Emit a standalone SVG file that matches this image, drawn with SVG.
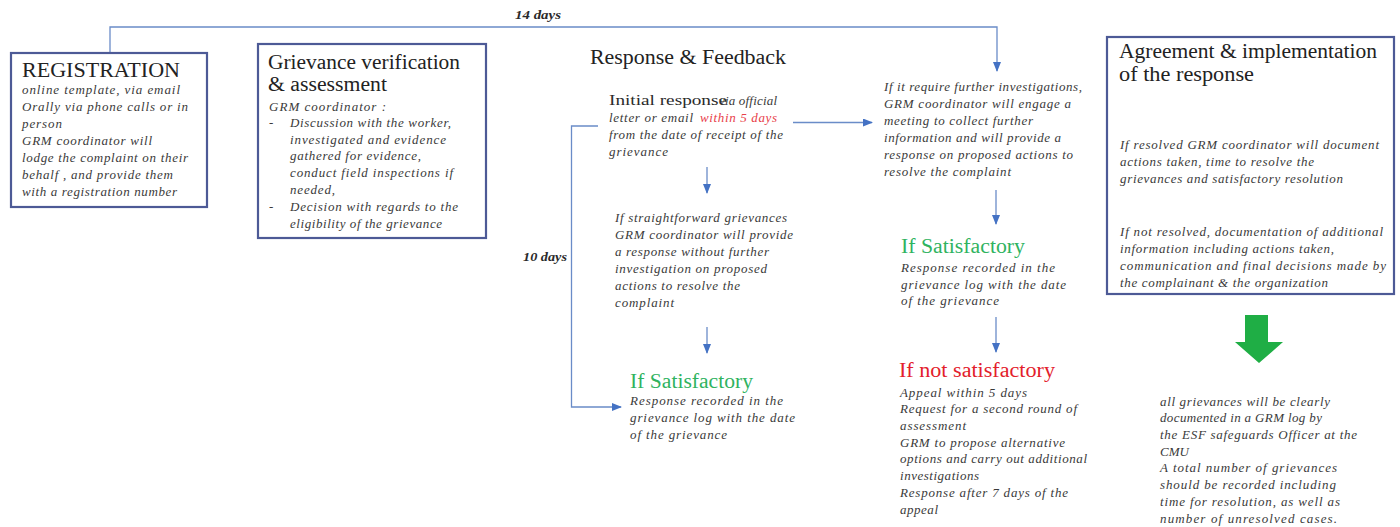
<svg xmlns="http://www.w3.org/2000/svg" width="1400" height="527" viewBox="0 0 1400 527">
<defs>
<marker id="ah" markerWidth="10" markerHeight="8" refX="9" refY="4" orient="auto" markerUnits="userSpaceOnUse">
<path d="M0,0 L10,4 L0,8 Z" fill="#4472c4"/>
</marker>
<style>
.box{fill:#ffffff;stroke:#4d5a96;stroke-width:2.2}
.conn{fill:none;stroke:#6a8cc8;stroke-width:1.3}
.t{font-family:"Liberation Serif","Times New Roman",serif;font-style:italic;font-size:13px;fill:#3a3a3a}
.title{font-family:"Liberation Serif","Times New Roman",serif;font-size:20px;fill:#222222}
.lbl{font-family:"Liberation Serif","Times New Roman",serif;font-style:italic;font-weight:bold;font-size:13px;fill:#2a2a2a}
.green{font-family:"Liberation Serif","Times New Roman",serif;font-size:20px;fill:#2fb35f}
.red{font-family:"Liberation Serif","Times New Roman",serif;font-size:20px;fill:#e3202b}
</style>
</defs>
<rect width="1400" height="527" fill="#ffffff"/>

<g id="connectors">
<path class="conn" d="M110,53 V27 H997 V71" marker-end="url(#ah)"/>
<path class="conn" d="M793,122.5 H872" marker-end="url(#ah)"/>
<path class="conn" d="M598,126 H571.5 V407 H621" marker-end="url(#ah)"/>
<path class="conn" d="M707,167 V193" marker-end="url(#ah)"/>
<path class="conn" d="M707,327 V353" marker-end="url(#ah)"/>
<path class="conn" d="M996,190 V224" marker-end="url(#ah)"/>
<path class="conn" d="M996,317 V352" marker-end="url(#ah)"/>
<text class="lbl" x="515" y="19" textLength="46" lengthAdjust="spacingAndGlyphs">14 days</text>
<text class="lbl" x="523" y="261" textLength="44" lengthAdjust="spacingAndGlyphs">10 days</text>
</g>

<g id="registration">
<rect class="box" x="11" y="53" width="196" height="154"/>
<text class="title" x="22" y="77" textLength="158" lengthAdjust="spacingAndGlyphs">REGISTRATION</text>
<text class="t" x="22" y="94" textLength="158" lengthAdjust="spacing">online template,  via email</text>
<text class="t" x="22" y="111" textLength="166" lengthAdjust="spacing">Orally via phone  calls or in</text>
<text class="t" x="22" y="128" textLength="40" lengthAdjust="spacing">person</text>
<text class="t" x="22" y="145" textLength="130" lengthAdjust="spacing">GRM coordinator will</text>
<text class="t" x="22" y="162" textLength="166" lengthAdjust="spacing">lodge the complaint on their</text>
<text class="t" x="22" y="179" textLength="151" lengthAdjust="spacing">behalf , and provide them</text>
<text class="t" x="22" y="196" textLength="155" lengthAdjust="spacing">with a registration number</text>
</g>

<g id="verification">
<rect class="box" x="258" y="44" width="228" height="194"/>
<text class="title" x="268" y="69" textLength="192" lengthAdjust="spacingAndGlyphs">Grievance verification</text>
<text class="title" x="268" y="91" textLength="119" lengthAdjust="spacingAndGlyphs">&amp; assessment</text>
<text class="t" x="269" y="111" textLength="117" lengthAdjust="spacing">GRM coordinator  :</text>
<text class="t" x="269" y="127">-</text>
<text class="t" x="290" y="127" textLength="161" lengthAdjust="spacing">Discussion with the worker,</text>
<text class="t" x="290" y="144" textLength="156" lengthAdjust="spacing">investigated  and  evidence</text>
<text class="t" x="290" y="160" textLength="131" lengthAdjust="spacing">gathered for evidence,</text>
<text class="t" x="290" y="177" textLength="163" lengthAdjust="spacing">conduct field  inspections  if</text>
<text class="t" x="290" y="194" textLength="45" lengthAdjust="spacing">needed,</text>
<text class="t" x="269" y="211">-</text>
<text class="t" x="290" y="211" textLength="168" lengthAdjust="spacing">Decision with  regards to the</text>
<text class="t" x="290" y="228" textLength="152" lengthAdjust="spacing">eligibility of the grievance</text>
</g>

<g id="response-feedback">
<text class="title" x="590" y="64" textLength="196" lengthAdjust="spacingAndGlyphs">Response &amp; Feedback</text>
</g>

<g id="initial-response">
<text x="609" y="105" font-family="Liberation Serif, Times New Roman, serif" font-size="15" fill="#2a2a2a" textLength="118" lengthAdjust="spacingAndGlyphs">Initial response</text>
<text class="t" x="719" y="105" textLength="58" lengthAdjust="spacing">via official</text>
<text class="t" x="609" y="122" textLength="84" lengthAdjust="spacing">letter or email</text>
<text class="t" x="700" y="122" textLength="77" lengthAdjust="spacing" style="fill:#e8404a">within 5 days</text>
<text class="t" x="609" y="139" textLength="174" lengthAdjust="spacing">from the date of receipt of the</text>
<text class="t" x="609" y="156" textLength="59" lengthAdjust="spacing">grievance</text>
</g>

<g id="straightforward">
<text class="t" x="615" y="222" textLength="172" lengthAdjust="spacing">If straightforward grievances</text>
<text class="t" x="615" y="239" textLength="178" lengthAdjust="spacing">GRM coordinator will provide</text>
<text class="t" x="615" y="256" textLength="154" lengthAdjust="spacing">a response without further</text>
<text class="t" x="615" y="273" textLength="152" lengthAdjust="spacing">investigation on proposed</text>
<text class="t" x="615" y="290" textLength="125" lengthAdjust="spacing">actions to resolve the</text>
<text class="t" x="615" y="307" textLength="59" lengthAdjust="spacing">complaint</text>
</g>

<g id="satisfactory-1">
<text class="green" x="630" y="388" textLength="123" lengthAdjust="spacingAndGlyphs">If Satisfactory</text>
<text class="t" x="630" y="405" textLength="153" lengthAdjust="spacing">Response recorded in  the</text>
<text class="t" x="630" y="422" textLength="165" lengthAdjust="spacing">grievance log with the date</text>
<text class="t" x="630" y="439" textLength="97" lengthAdjust="spacing">of the grievance</text>
</g>

<g id="further-investigation">
<text class="t" x="884" y="91" textLength="198" lengthAdjust="spacing">If it require further investigations,</text>
<text class="t" x="884" y="108" textLength="187" lengthAdjust="spacing">GRM coordinator will engage a</text>
<text class="t" x="884" y="125" textLength="149" lengthAdjust="spacing">meeting to collect further</text>
<text class="t" x="884" y="142" textLength="177" lengthAdjust="spacing">information and will provide a</text>
<text class="t" x="884" y="159" textLength="189" lengthAdjust="spacing">response on proposed actions to</text>
<text class="t" x="884" y="176" textLength="127" lengthAdjust="spacing">resolve the complaint</text>
</g>

<g id="satisfactory-2">
<text class="green" x="901" y="253" textLength="124" lengthAdjust="spacingAndGlyphs">If Satisfactory</text>
<text class="t" x="901" y="272" textLength="154" lengthAdjust="spacing">Response recorded in  the</text>
<text class="t" x="901" y="289" textLength="165" lengthAdjust="spacing">grievance log with the date</text>
<text class="t" x="901" y="305" textLength="98" lengthAdjust="spacing">of the grievance</text>
</g>

<g id="not-satisfactory">
<text class="red" x="899" y="377" textLength="156" lengthAdjust="spacingAndGlyphs">If not satisfactory</text>
<text class="t" x="900" y="397" textLength="127" lengthAdjust="spacing">Appeal within  5 days</text>
<text class="t" x="900" y="413" textLength="177" lengthAdjust="spacing">Request for a second round of</text>
<text class="t" x="900" y="430" textLength="66" lengthAdjust="spacing">assessment</text>
<text class="t" x="900" y="447" textLength="165" lengthAdjust="spacing">GRM to propose alternative</text>
<text class="t" x="900" y="463" textLength="187" lengthAdjust="spacing">options and carry out additional</text>
<text class="t" x="900" y="480" textLength="79" lengthAdjust="spacing">investigations</text>
<text class="t" x="900" y="497" textLength="168" lengthAdjust="spacing">Response after  7 days of the</text>
<text class="t" x="900" y="514" textLength="38" lengthAdjust="spacing">appeal</text>
</g>

<g id="agreement">
<rect class="box" x="1107" y="37" width="287" height="257"/>
<text class="title" x="1119" y="58" textLength="258" lengthAdjust="spacingAndGlyphs">Agreement &amp; implementation</text>
<text class="title" x="1119" y="81" textLength="135" lengthAdjust="spacingAndGlyphs">of the response</text>
<text class="t" x="1120" y="149" textLength="259" lengthAdjust="spacing">If resolved GRM  coordinator will document</text>
<text class="t" x="1120" y="166" textLength="194" lengthAdjust="spacing">actions taken, time to resolve the</text>
<text class="t" x="1120" y="183" textLength="223" lengthAdjust="spacing">grievances and satisfactory resolution</text>
<text class="t" x="1120" y="236" textLength="263" lengthAdjust="spacing">If not resolved, documentation  of additional</text>
<text class="t" x="1120" y="253" textLength="214" lengthAdjust="spacing">information including   actions taken,</text>
<text class="t" x="1120" y="270" textLength="266" lengthAdjust="spacing">communication  and final  decisions  made by</text>
<text class="t" x="1120" y="287" textLength="208" lengthAdjust="spacing">the complainant &amp; the organization</text>
</g>

<g id="green-arrow">
<path d="M1245,315 H1268 V342 H1283 L1259,363 L1235,342 H1245 Z" fill="#1fae45"/>
</g>

<g id="documentation">
<text class="t" x="1160" y="406" textLength="170" lengthAdjust="spacing">all grievances will be clearly</text>
<text class="t" x="1160" y="422" textLength="162" lengthAdjust="spacing">documented in a GRM log by</text>
<text class="t" x="1160" y="439" textLength="197" lengthAdjust="spacing">the ESF safeguards Officer at the</text>
<text class="t" x="1160" y="456">CMU</text>
<text class="t" x="1160" y="472" textLength="177" lengthAdjust="spacing">A total  number of grievances</text>
<text class="t" x="1160" y="489" textLength="176" lengthAdjust="spacing">should  be recorded including</text>
<text class="t" x="1160" y="506" textLength="180" lengthAdjust="spacing">time for resolution,  as well as</text>
<text class="t" x="1160" y="523" textLength="177" lengthAdjust="spacing">number of unresolved cases.</text>
</g>
</svg>
